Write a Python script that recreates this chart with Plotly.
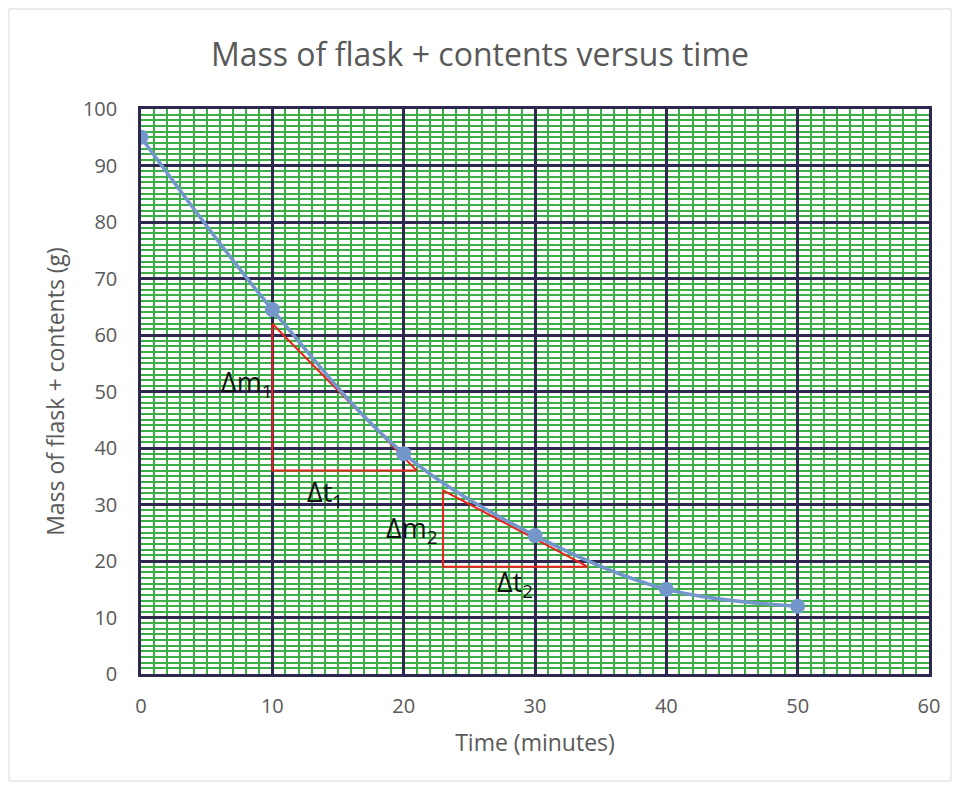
import plotly.graph_objects as go

time_min = [0, 10, 20, 30, 40, 50]
mass_g = [95, 64.5, 39, 24.5, 15, 12]

tri1_x = [10, 10, 21, 10]
tri1_y = [62, 36, 36, 62]
tri2_x = [23, 23, 34, 23]
tri2_y = [32.5, 19, 19, 32.5]

labels = ["Δm<sub>1</sub>", "Δt<sub>1</sub>", "Δm<sub>2</sub>", "Δt<sub>2</sub>"]
label_x = [8.0, 14.0, 20.6, 28.5]
label_y = [51.5, 32.0, 25.5, 16.0]

FONT = "Open Sans"
GREY = "#595959"

fig = go.Figure()

fig.add_trace(go.Scatter(x=tri1_x, y=tri1_y, mode="lines",
                         line=dict(color="#E8231E", width=2), hoverinfo="skip"))
fig.add_trace(go.Scatter(x=tri2_x, y=tri2_y, mode="lines",
                         line=dict(color="#E8231E", width=2), hoverinfo="skip"))
fig.add_trace(go.Scatter(x=time_min, y=mass_g, mode="lines+markers",
                         line=dict(color="#7397CB", width=3.5, shape="spline", smoothing=1.0),
                         marker=dict(color="#7397CB", size=15)))

for t, x, y in zip(labels, label_x, label_y):
    fig.add_annotation(x=x, y=y, text=t, showarrow=False,
                       font=dict(family=FONT, size=27, color="#111111"))

# outer chart border (plot area: 788 x 565 px)
fig.add_shape(type="rect", xref="paper", yref="paper",
              x0=(9 - 141) / 788, x1=(951 - 141) / 788,
              y0=(674 - 781) / 565, y1=(674 - 9) / 565,
              line=dict(color="#D9D9D9", width=1), layer="below")

fig.update_layout(
    width=944, height=774,
    margin=dict(l=133, r=23, t=101, b=108),
    paper_bgcolor="white", plot_bgcolor="white",
    showlegend=False,
    title=dict(text="Mass of flask + contents versus time", x=0.5, xanchor="center",
               y=0.939, yanchor="middle",
               font=dict(family=FONT, size=32, color=GREY)),
    font=dict(family=FONT, color=GREY),
)

fig.update_xaxes(range=[0, 60], dtick=10, tick0=0,
                 showgrid=True, gridcolor="#2E2850", gridwidth=2.5,
                 minor=dict(dtick=1, showgrid=True, gridcolor="#3DAE46", gridwidth=2, ticks=""),
                 showline=True, linecolor="#2E2850", linewidth=2.5, mirror=True,
                 zeroline=False, ticks="outside", ticklen=12, tickcolor="rgba(0,0,0,0)",
                 tickfont=dict(family=FONT, size=20, color=GREY),
                 title=dict(text="Time (minutes)", font=dict(family=FONT, size=23, color=GREY),
                            standoff=18))
fig.update_yaxes(range=[0, 100], dtick=10, tick0=0,
                 showgrid=True, gridcolor="#2E2850", gridwidth=2.5,
                 minor=dict(dtick=1, showgrid=True, gridcolor="#3DAE46", gridwidth=2, ticks=""),
                 showline=True, linecolor="#2E2850", linewidth=2.5, mirror=True,
                 zeroline=False, ticks="outside", ticklen=17, tickcolor="rgba(0,0,0,0)",
                 tickfont=dict(family=FONT, size=20, color=GREY),
                 title=dict(text="Mass of flask + contents (g)", font=dict(family=FONT, size=23, color=GREY),
                            standoff=12))

fig.write_html("out.html")
